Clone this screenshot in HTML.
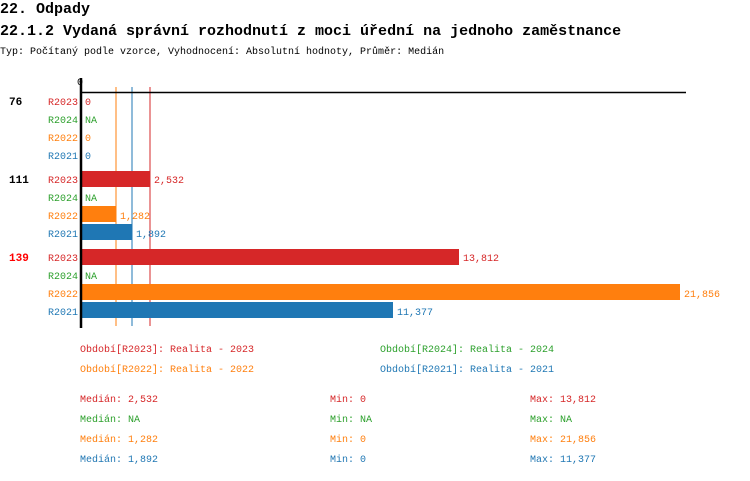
<!DOCTYPE html>
<html><head><meta charset="utf-8"><style>body{margin:0;background:#fff}svg text{font-family:"Liberation Mono","DejaVu Sans Mono",monospace}</style></head><body>
<svg width="750" height="476" xmlns="http://www.w3.org/2000/svg">
<text x="0" y="13" font-size="15" font-weight="bold" fill="#000">22. Odpady</text>
<text x="0" y="35" font-size="15" font-weight="bold" fill="#000">22.1.2 Vydaná správní rozhodnutí z moci úřední na jednoho zaměstnance</text>
<text x="0" y="54" font-size="10" fill="#000">Typ: Počítaný podle vzorce, Vyhodnocení: Absolutní hodnoty, Průměr: Medián</text>
<text x="77" y="85" font-size="10">0</text>
<line x1="116" y1="87" x2="116" y2="326" stroke="#ff7f0e"/>
<line x1="132" y1="87" x2="132" y2="326" stroke="#1f77b4"/>
<line x1="150" y1="87" x2="150" y2="326" stroke="#d62728"/>
<line x1="80" y1="92.5" x2="686" y2="92.5" stroke="#000" stroke-width="1.5"/>
<g font-size="11" font-weight="bold"><text x="9" y="105">76</text><text x="9" y="183">111</text><text x="9" y="261" fill="#ff0000">139</text></g>
<rect x="81" y="171" width="69" height="16" fill="#d62728"/>
<rect x="81" y="206" width="35" height="16" fill="#ff7f0e"/>
<rect x="81" y="224" width="51" height="16" fill="#1f77b4"/>
<rect x="81" y="249" width="378" height="16" fill="#d62728"/>
<rect x="81" y="284" width="599" height="16" fill="#ff7f0e"/>
<rect x="81" y="302" width="312" height="16" fill="#1f77b4"/>
<line x1="81" y1="78" x2="81" y2="328" stroke="#000" stroke-width="2.5"/>
<g font-size="10">
<g text-anchor="end">
<text x="78" y="105" fill="#d62728">R2023</text><text x="78" y="123" fill="#2ca02c">R2024</text><text x="78" y="141" fill="#ff7f0e">R2022</text><text x="78" y="159" fill="#1f77b4">R2021</text>
<text x="78" y="183" fill="#d62728">R2023</text><text x="78" y="201" fill="#2ca02c">R2024</text><text x="78" y="219" fill="#ff7f0e">R2022</text><text x="78" y="237" fill="#1f77b4">R2021</text>
<text x="78" y="261" fill="#d62728">R2023</text><text x="78" y="279" fill="#2ca02c">R2024</text><text x="78" y="297" fill="#ff7f0e">R2022</text><text x="78" y="315" fill="#1f77b4">R2021</text>
</g>
<text x="85" y="105" fill="#d62728">0</text><text x="85" y="123" fill="#2ca02c">NA</text><text x="85" y="141" fill="#ff7f0e">0</text><text x="85" y="159" fill="#1f77b4">0</text>
<text x="154" y="183" fill="#d62728">2,532</text><text x="85" y="201" fill="#2ca02c">NA</text><text x="120" y="219" fill="#ff7f0e">1,282</text><text x="136" y="237" fill="#1f77b4">1,892</text>
<text x="463" y="261" fill="#d62728">13,812</text><text x="85" y="279" fill="#2ca02c">NA</text><text x="684" y="297" fill="#ff7f0e">21,856</text><text x="397" y="315" fill="#1f77b4">11,377</text>
<text x="80" y="352" fill="#d62728">Období[R2023]: Realita - 2023</text><text x="380" y="352" fill="#2ca02c">Období[R2024]: Realita - 2024</text>
<text x="80" y="372" fill="#ff7f0e">Období[R2022]: Realita - 2022</text><text x="380" y="372" fill="#1f77b4">Období[R2021]: Realita - 2021</text>
<text x="80" y="402" fill="#d62728">Medián: 2,532</text><text x="330" y="402" fill="#d62728">Min: 0</text><text x="530" y="402" fill="#d62728">Max: 13,812</text>
<text x="80" y="422" fill="#2ca02c">Medián: NA</text><text x="330" y="422" fill="#2ca02c">Min: NA</text><text x="530" y="422" fill="#2ca02c">Max: NA</text>
<text x="80" y="442" fill="#ff7f0e">Medián: 1,282</text><text x="330" y="442" fill="#ff7f0e">Min: 0</text><text x="530" y="442" fill="#ff7f0e">Max: 21,856</text>
<text x="80" y="462" fill="#1f77b4">Medián: 1,892</text><text x="330" y="462" fill="#1f77b4">Min: 0</text><text x="530" y="462" fill="#1f77b4">Max: 11,377</text>
</g>
</svg>
</body></html>
